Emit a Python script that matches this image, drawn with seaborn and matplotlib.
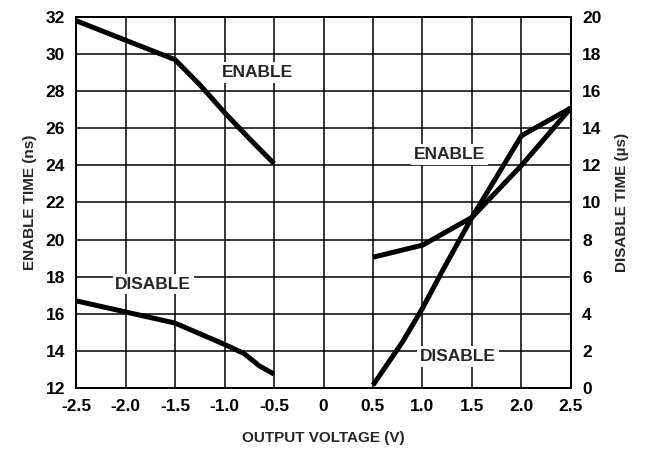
import numpy as np
import pandas as pd
import seaborn as sns
import matplotlib
matplotlib.use("Agg")
import matplotlib.pyplot as plt

# enable time (ns), left axis
en_neg_v = [-2.5, -2.0, -1.5, -1.25, -1.0, -0.75, -0.5]
en_neg_t = [31.8, 30.75, 29.7, 28.35, 26.85, 25.45, 24.1]
en_pos_v = [0.5, 1.0, 1.5, 2.0, 2.5]
en_pos_t = [19.05, 19.7, 21.2, 24.0, 27.1]

# disable time (us), right axis
dis_neg_v = [-2.5, -2.0, -1.5, -1.0, -0.8, -0.65, -0.5]
dis_neg_t = [4.7, 4.1, 3.5, 2.35, 1.85, 1.2, 0.75]
dis_pos_v = [0.5, 0.8, 1.0, 1.2, 1.5, 2.0, 2.5]
dis_pos_t = [0.15, 2.5, 4.3, 6.3, 9.2, 13.6, 15.1]

x_ticks = [-2.5, -2.0, -1.5, -1.0, -0.5, 0, 0.5, 1.0, 1.5, 2.0, 2.5]
x_labels = ["-2.5", "-2.0", "-1.5", "-1.0", "-0.5", "0", "0.5", "1.0", "1.5", "2.0", "2.5"]
left_ticks = list(range(12, 33, 2))
right_ticks = list(range(0, 21, 2))

sns.set_style("white")
plt.rcParams['font.family'] = ['Liberation Sans', 'DejaVu Sans']
plt.rcParams['font.weight'] = 'bold'

fig = plt.figure(figsize=(6.47, 4.53), dpi=100)
ax = fig.add_axes([0.1175, 0.1435, 0.765, 0.819])
ax2 = ax.twinx()

lw = 3.6
for xs, ys in [(en_neg_v, en_neg_t), (en_pos_v, en_pos_t)]:
    sns.lineplot(x=xs, y=ys, ax=ax, color="black", linewidth=lw, sort=False,
                 solid_joinstyle="miter", solid_capstyle="butt")
for xs, ys in [(dis_neg_v, dis_neg_t), (dis_pos_v, dis_pos_t)]:
    sns.lineplot(x=xs, y=ys, ax=ax2, color="black", linewidth=lw, sort=False,
                 solid_joinstyle="miter", solid_capstyle="butt")

ax.set_xlim(-2.5, 2.5)
ax.set_ylim(12, 32)
ax2.set_ylim(0, 20)
ax.set_xticks(x_ticks)
ax.set_xticklabels(x_labels)
ax.set_yticks(left_ticks)
ax2.set_yticks(right_ticks)

ax.grid(True, color="black", linewidth=1.1)
ax.set_axisbelow(True)
for a in (ax, ax2):
    for s in a.spines.values():
        s.set_color("black")
        s.set_linewidth(1.3)
    a.tick_params(length=0, labelsize=12.5, pad=8, colors="black")
    for lab in a.get_xticklabels() + a.get_yticklabels():
        lab.set_fontweight("bold")

ax.set_xlabel("OUTPUT VOLTAGE (V)", fontsize=11, fontweight="bold", labelpad=12)
ax.set_ylabel("ENABLE TIME (ns)", fontsize=11, fontweight="bold", labelpad=6)
ax2.set_ylabel("DISABLE TIME (\u00b5s)", fontsize=11, fontweight="bold", labelpad=10)

box = dict(facecolor="white", edgecolor="none", pad=2)
fs = 12.5
ax.text(-0.67, 29.0, "ENABLE", ha="center", va="center", fontsize=fs, fontweight="bold", bbox=box)
ax.text(-1.72, 17.6, "DISABLE", ha="center", va="center", fontsize=fs, fontweight="bold", bbox=box)
ax2.text(1.27, 12.6, "ENABLE", ha="center", va="center", fontsize=fs, fontweight="bold", bbox=box)
ax2.text(1.36, 1.7, "DISABLE", ha="center", va="center", fontsize=fs, fontweight="bold", bbox=box)

fig.savefig("out.png", dpi=100)
